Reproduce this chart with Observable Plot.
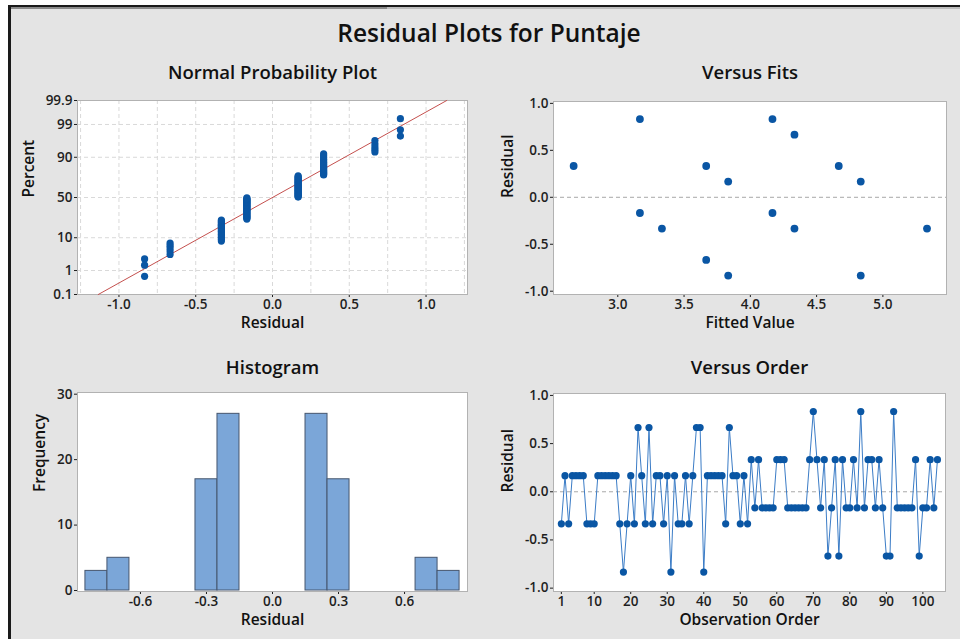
<!DOCTYPE html>
<html><head><meta charset="utf-8">
<script src="https://cdn.jsdelivr.net/npm/d3@7"></script>
<script src="https://cdn.jsdelivr.net/npm/@observablehq/plot@0.6"></script>
<style>
html,body{margin:0;padding:0;background:#fff;}
#page{position:relative;width:960px;height:639px;overflow:hidden;background:#fff;font-family:"Open Sans",sans-serif;}
#panel{position:absolute;left:8px;top:5px;right:0;bottom:0;background:#e4e4e4;border-left:3px solid #1a1a1a;border-top:2px solid #1a1a1a;}
#edge1{position:absolute;left:11px;top:7px;width:376px;height:2px;background:#8a8a8a;}
#edge2{position:absolute;left:387px;top:7px;right:0;height:2px;background:#bdbdbd;}
#title{position:absolute;left:0;width:978px;top:15px;text-align:center;font-size:24.5px;font-weight:600;color:#111;line-height:36px;}
.q{position:absolute;}
</style></head>
<body><div id="page">
<div id="panel"></div><div id="edge1"></div><div id="edge2"></div>
<div id="title">Residual Plots for Puntaje</div>
<div class="q" id="q1" style="left:0;top:55px"></div>
<div class="q" id="q2" style="left:480px;top:55px"></div>
<div class="q" id="q3" style="left:0;top:350px"></div>
<div class="q" id="q4" style="left:480px;top:350px"></div>
</div>
<script>
// ---- data ----
const residualsByOrder = [
 -0.333, 0.167,-0.333, 0.167, 0.167, 0.167, 0.167,-0.333,-0.333,-0.333,
  0.167, 0.167, 0.167, 0.167, 0.167, 0.167,-0.333,-0.833,-0.333, 0.167,
 -0.333, 0.667, 0.167,-0.333, 0.667,-0.333, 0.167, 0.167,-0.333, 0.167,
 -0.833, 0.167,-0.333,-0.333, 0.167,-0.333, 0.167, 0.667, 0.667,-0.833,
  0.167, 0.167, 0.167, 0.167, 0.167,-0.333, 0.667, 0.167, 0.167,-0.333,
  0.167,-0.333, 0.333,-0.167, 0.333,-0.167,-0.167,-0.167,-0.167, 0.333,
  0.333, 0.333,-0.167,-0.167,-0.167,-0.167,-0.167,-0.167, 0.333, 0.833,
  0.333,-0.167, 0.333,-0.667,-0.167, 0.333,-0.667, 0.333,-0.167,-0.167,
  0.333,-0.167, 0.833,-0.167, 0.333, 0.333,-0.167, 0.333,-0.167,-0.667,
 -0.667, 0.833,-0.167,-0.167,-0.167,-0.167,-0.167, 0.333,-0.667,-0.167,
 -0.167, 0.333,-0.167, 0.333
];
const fittedValues = [2.667,3.167,3.167,3.333,3.667,3.667,3.833,3.833,4.167,4.167,4.333,4.333,4.667,4.833,4.833,5.333];
const fitResiduals = [0.333,0.833,-0.167,-0.333,0.333,-0.667,0.167,-0.833,0.833,-0.167,0.667,-0.333,0.333,0.167,-0.833,-0.333];
const percentTicks = [0.1, 1, 10, 50, 90, 99, 99.9];
const npResidualTicks = [-1.0, -0.5, 0.0, 0.5, 1.0];
const npGridTicks = [-1.25,-1,-0.75,-0.5,-0.25,0,0.25,0.5,0.75,1,1.25];
const histTicks = [-0.6, -0.3, 0.0, 0.3, 0.6];
const histBinEdges = [-0.85,-0.75,-0.65,-0.55,-0.45,-0.35,-0.25,-0.15,-0.05,0.05,0.15,0.25,0.35,0.45,0.55,0.65,0.75,0.85];
const freqTicks = [0, 10, 20, 30];
const fitTicks = [3.0, 3.5, 4.0, 4.5, 5.0];
const residTicks = [-1.0, -0.5, 0.0, 0.5, 1.0];
const orderTicks = [1, 10, 20, 30, 40, 50, 60, 70, 80, 90, 100];

// ---- helpers ----
function probit(p){
 const a=[-3.969683028665376e+01,2.209460984245205e+02,-2.759285104469687e+02,1.383577518672690e+02,-3.066479806614716e+01,2.506628277459239e+00];
 const b=[-5.447609879822406e+01,1.615858368580409e+02,-1.556989798598866e+02,6.680131188771972e+01,-1.328068155288572e+01];
 const c=[-7.784894002430293e-03,-3.223964580411365e-01,-2.400758277161838e+00,-2.549732539343734e+00,4.374664141464968e+00,2.938163982698783e+00];
 const e=[7.784695709041462e-03,3.224671290700398e-01,2.445134137142996e+00,3.754408661907416e+00];
 const pl=0.02425, ph=1-pl; let q,r;
 if(p<pl){q=Math.sqrt(-2*Math.log(p));return (((((c[0]*q+c[1])*q+c[2])*q+c[3])*q+c[4])*q+c[5])/((((e[0]*q+e[1])*q+e[2])*q+e[3])*q+1);}
 if(p>ph){q=Math.sqrt(-2*Math.log(1-p));return -(((((c[0]*q+c[1])*q+c[2])*q+c[3])*q+c[4])*q+c[5])/((((e[0]*q+e[1])*q+e[2])*q+e[3])*q+1);}
 q=p-0.5;r=q*q;return (((((a[0]*r+a[1])*r+a[2])*r+a[3])*r+a[4])*r+a[5])*q/(((((b[0]*r+b[1])*r+b[2])*r+b[3])*r+b[4])*r+1);
}
const FONT = '"Open Sans", "DejaVu Sans", sans-serif';
const STYLE = `background:transparent;font-family:${FONT};font-size:13.5px;font-weight:600;color:#1e1e1e;overflow:visible;`;
const DOT = "#0a56a4";
const FRAME = "#b2b2b2";
const fmt1 = d => d.toFixed(1);
const titleOpts = {frameAnchor:"top", lineAnchor:"middle", fontSize:18.5, fontWeight:600, fill:"#111"};
const labelOpts = {lineAnchor:"middle", fontSize:15.5, fontWeight:600, fill:"#111"};

// ---- Normal probability plot ----
const sorted = residualsByOrder.slice().sort(d3.ascending);
const n = sorted.length;
const npData = sorted.map((r,i)=>({r, z: probit((i+1-0.375)/(n+0.25))}));
const mu = d3.mean(residualsByOrder), sd = d3.deviation(residualsByOrder);
const zTicks = percentTicks.map(p=>probit(p/100));
const zLabel = new Map(zTicks.map((z,i)=>[z, String(percentTicks[i])]));
const zLo = zTicks[0], zHi = zTicks[zTicks.length-1];
const fitLine = [{x: mu+sd*zLo, y: zLo}, {x: mu+sd*zHi, y: zHi}];

document.getElementById("q1").append(Plot.plot({
 width:480, height:285, marginLeft:77, marginRight:13, marginTop:45, marginBottom:46,
 style: STYLE,
 x:{domain:[-1.27,1.27], ticks:npResidualTicks, tickFormat:fmt1, tickSize:3, tickPadding:2, label:null},
 y:{domain:[zLo,zHi], ticks:zTicks, tickFormat:z=>zLabel.get(z), tickSize:3, tickPadding:2, label:null},
 marks:[
  Plot.frame({fill:"white", stroke:"none"}),
  Plot.ruleX(npGridTicks, {stroke:"#d9d9d9", strokeDasharray:"4,3"}),
  Plot.ruleY(zTicks, {stroke:"#d9d9d9", strokeDasharray:"4,3"}),
  Plot.frame({stroke:FRAME}),
  Plot.line(fitLine, {x:"x", y:"y", stroke:"#c4504e", strokeWidth:1}),
  Plot.dot(npData, {x:"r", y:"z", r:3.6, fill:DOT, stroke:"none"}),
  Plot.text(["Normal Probability Plot"], {...titleOpts, dy:-27}),
  Plot.text(["Residual"], {...labelOpts, frameAnchor:"bottom", dy:29}),
  Plot.text(["Percent"], {...labelOpts, frameAnchor:"left", dx:-48, rotate:-90})
 ]
}));

// ---- Versus fits ----
const fitsData = fittedValues.map((f,i)=>({f, r: fitResiduals[i]}));
document.getElementById("q2").append(Plot.plot({
 width:480, height:285, marginLeft:73, marginRight:14, marginTop:46, marginBottom:46,
 style: STYLE,
 x:{domain:[2.515,5.48], ticks:fitTicks, tickFormat:fmt1, tickSize:3, tickPadding:2, label:null},
 y:{domain:[-1.035,1.02], ticks:residTicks, tickFormat:fmt1, tickSize:3, tickPadding:2, label:null},
 marks:[
  Plot.frame({fill:"white", stroke:"none"}),
  Plot.ruleY([0], {stroke:"#a8a8a8", strokeDasharray:"4,3"}),
  Plot.frame({stroke:FRAME}),
  Plot.dot(fitsData, {x:"f", y:"r", r:3.9, fill:DOT, stroke:"none"}),
  Plot.text(["Versus Fits"], {...titleOpts, dy:-28}),
  Plot.text(["Fitted Value"], {...labelOpts, frameAnchor:"bottom", dy:29}),
  Plot.text(["Residual"], {...labelOpts, frameAnchor:"left", dx:-45, rotate:-90})
 ]
}));

// ---- Histogram ----
document.getElementById("q3").append(Plot.plot({
 width:480, height:289, marginLeft:77, marginRight:13, marginTop:42, marginBottom:48,
 style: STYLE,
 x:{domain:[-0.886,0.886], ticks:histTicks, tickFormat:fmt1, tickSize:3, tickPadding:2, label:null},
 y:{domain:[-0.15,30.26], ticks:freqTicks, tickFormat:d=>String(d), tickSize:3, tickPadding:2, label:null},
 marks:[
  Plot.frame({fill:"white", stroke:"none"}),
  Plot.rectY(residualsByOrder, Plot.binX({y:"count"}, {x:d=>d, thresholds:histBinEdges, fill:"#7ba6d8", stroke:"#46566e", strokeWidth:1, inset:0})),
  Plot.frame({stroke:FRAME}),
  Plot.text(["Histogram"], {...titleOpts, dy:-24}),
  Plot.text(["Residual"], {...labelOpts, frameAnchor:"bottom", dy:29}),
  Plot.text(["Frequency"], {...labelOpts, frameAnchor:"left", dx:-37, rotate:-90})
 ]
}));

// ---- Versus order ----
document.getElementById("q4").append(Plot.plot({
 width:480, height:289, marginLeft:73, marginRight:15, marginTop:43, marginBottom:48,
 style: STYLE,
 x:{domain:[-1.15,106.2], ticks:orderTicks, tickFormat:d=>String(d), tickSize:3, tickPadding:2, label:null},
 y:{domain:[-1.035,1.02], ticks:residTicks, tickFormat:fmt1, tickSize:3, tickPadding:2, label:null},
 marks:[
  Plot.frame({fill:"white", stroke:"none"}),
  Plot.ruleY([0], {stroke:"#a8a8a8", strokeDasharray:"4,3"}),
  Plot.frame({stroke:FRAME}),
  Plot.line(residualsByOrder, {x:(d,i)=>i+1, y:d=>d, stroke:"#3b7cc6", strokeWidth:1}),
  Plot.dot(residualsByOrder, {x:(d,i)=>i+1, y:d=>d, r:3.6, fill:DOT, stroke:"none"}),
  Plot.text(["Versus Order"], {...titleOpts, dy:-25}),
  Plot.text(["Observation Order"], {...labelOpts, frameAnchor:"bottom", dy:29}),
  Plot.text(["Residual"], {...labelOpts, frameAnchor:"left", dx:-45, rotate:-90})
 ]
}));
</script>
</body></html>
